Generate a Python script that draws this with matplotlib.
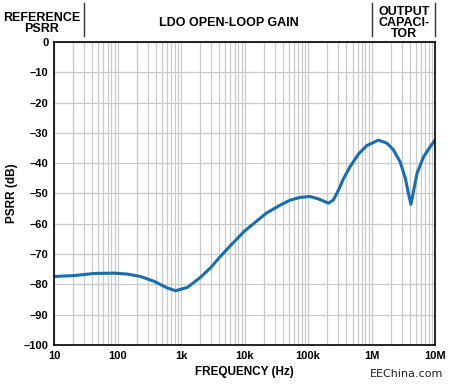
import matplotlib.pyplot as plt
from matplotlib.ticker import FixedLocator, NullFormatter

# PSRR
freq_hz = [10, 20.7, 43, 88, 142, 230, 376, 610, 820, 1260, 2040, 2950,
           4000, 6000, 10e3, 22e3, 36e3, 52e3, 75e3, 107e3, 145e3, 209e3,
           251e3, 302e3, 363e3, 460e3, 620e3, 840e3, 1.28e6, 1.74e6, 2.2e6,
           2.8e6, 3.4e6, 3.8e6, 4.15e6, 4.55e6, 5.2e6, 6.6e6, 8.4e6, 10e6]
psrr_db = [-77.4, -77.1, -76.4, -76.3, -76.6, -77.4, -79.0, -81.2, -82.1,
           -81.0, -77.6, -74.4, -71.2, -67.2, -62.4, -56.5, -53.9, -52.2,
           -51.3, -51.0, -51.8, -53.2, -52.1, -48.8, -45.0, -41.1, -37.0,
           -34.2, -32.4, -33.4, -35.6, -39.5, -45.0, -50.0, -53.6, -49.4,
           -43.3, -37.8, -34.5, -32.3]

x_ticks = [10, 100, 1e3, 10e3, 100e3, 1e6, 10e6]
x_tick_labels = ["10", "100", "1k", "10k", "100k", "1M", "10M"]
y_ticks = list(range(-100, 1, 10))
y_tick_labels = ["0" if v == 0 else "\u2013%d" % -v for v in y_ticks]

region_labels = ["REFERENCE\nPSRR", "LDO OPEN-LOOP GAIN", "OUTPUT\nCAPACI-\nTOR"]
region_centers = [6.3, 5.6e3, 3.2e6]
region_edges = [30, 1e6, 10e6]

plt.rcParams["font.family"] = ["Liberation Sans", "DejaVu Sans"]
plt.rcParams["font.weight"] = "bold"

fig = plt.figure(figsize=(4.5, 3.85), dpi=100)
ax = fig.add_axes([0.12, 0.104, 0.847, 0.787])

minor = [m * 10 ** d for d in range(1, 7) for m in range(2, 10)]
ax.set_xscale("log")
ax.set_xlim(10, 10e6)
ax.set_ylim(-100, 0)
ax.xaxis.set_major_locator(FixedLocator(x_ticks))
ax.xaxis.set_minor_locator(FixedLocator(minor))
ax.xaxis.set_minor_formatter(NullFormatter())
ax.set_xticks(x_ticks, x_tick_labels)
ax.set_yticks(y_ticks, y_tick_labels)
ax.tick_params(which="both", length=0, labelsize=8, pad=4)
ax.grid(True, which="both", axis="x", color="#c9cacc", linewidth=0.9)
ax.grid(True, which="major", axis="y", color="#c9cacc", linewidth=0.9)
ax.set_axisbelow(True)
for s in ax.spines.values():
    s.set_linewidth(1.2)
    s.set_color("black")

ax.plot(freq_hz, psrr_db, color="#1a6eae", linewidth=2.2,
        solid_capstyle="round", solid_joinstyle="round")

ax.set_xlabel("FREQUENCY (Hz)", fontsize=8.5, fontweight="bold", labelpad=4)
ax.set_ylabel("PSRR (dB)", fontsize=8.5, fontweight="bold", labelpad=4)

# region headers above the plot
xt = ax.get_xaxis_transform()
for lab, xc in zip(region_labels, region_centers):
    ax.text(xc, 1.062, lab, transform=xt, ha="center", va="center",
            fontsize=9, fontweight="bold", linespacing=0.88, clip_on=False)
for xe in region_edges:
    ax.plot([xe, xe], [1.02, 1.13], transform=xt,
            color="#333333", linewidth=1.0, clip_on=False)

fig.text(0.985, 0.015, "EEChina.com", ha="right", va="bottom",
         fontsize=8, fontweight="normal", family="DejaVu Sans", color="#222222")

fig.savefig("out.png", dpi=100)
